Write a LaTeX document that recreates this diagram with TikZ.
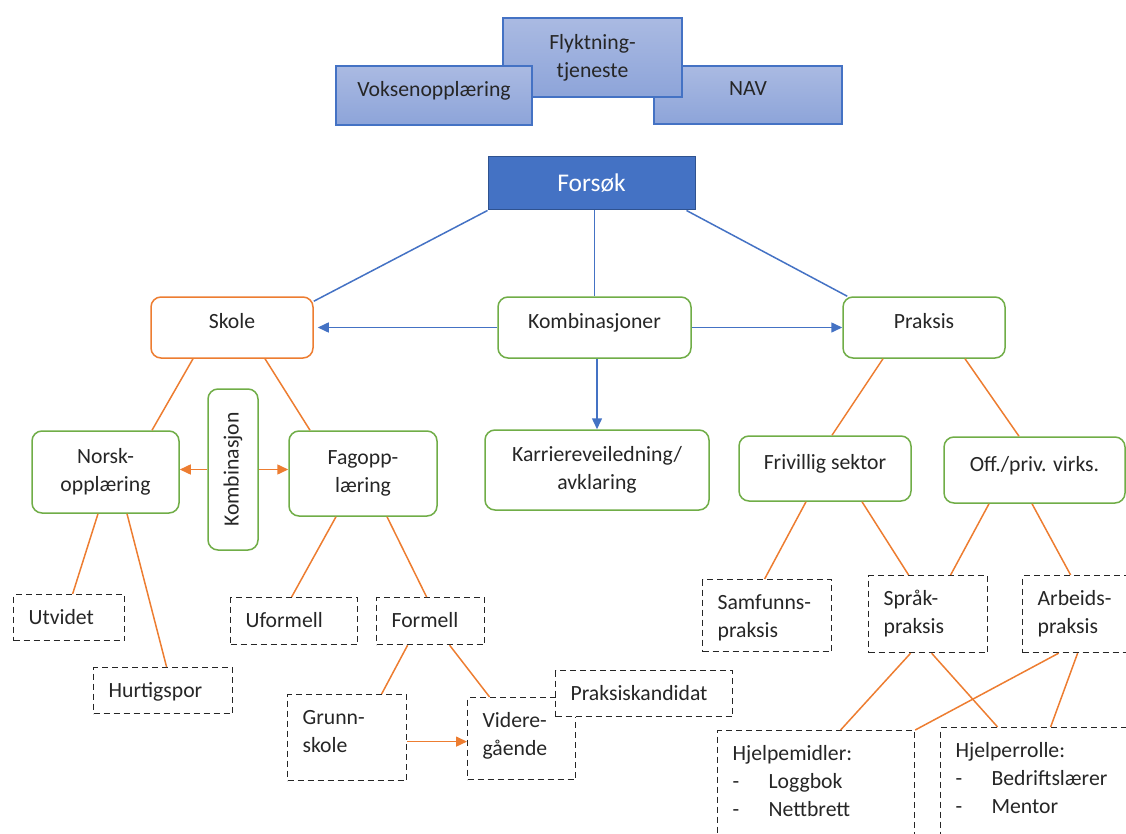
\documentclass[tikz,border=0pt]{standalone}
\usepackage{fontspec}
\setmainfont{Carlito}
\usetikzlibrary{arrows.meta}

\definecolor{offblue}{HTML}{4472C4}
\definecolor{darkblue}{HTML}{2F528F}
\definecolor{offorange}{HTML}{ED7D31}
\definecolor{offgreen}{HTML}{70AD47}
\definecolor{boxtop}{HTML}{AABAE2}
\definecolor{boxbottom}{HTML}{8DA4D9}
\definecolor{txt}{HTML}{262626}

\newcommand{\listdash}{\makebox[36pt][l]{-}}

\begin{document}
\begin{tikzpicture}[
        x=1pt, y=-1pt,
        font=\fontsize{21.7pt}{28pt}\selectfont, text=txt,
        % Style for the partner boxes and the main box
        partner/.style={draw=offblue, line width=1.2pt, top color=boxtop, bottom color=boxbottom, align=center, inner sep=0pt},
        main/.style={draw=darkblue, fill=offblue, text=white, line width=1pt, inner sep=0pt, font=\fontsize{25.5pt}{30pt}\selectfont},
        % Style for rounded and dashed boxes
        gbox/.style={draw=offgreen, fill=white, rounded corners=10pt, line width=1.5pt, align=center, inner sep=0pt},
        obox/.style={gbox, draw=offorange},
        oneline/.style={text height=15pt, text depth=13pt},
        dbox/.style={draw=black!85, dash pattern=on 6pt off 4pt, line width=1.2pt, fill=white, anchor=north west, align=left, inner xsep=15pt, inner ysep=0pt, text height=30pt},
        bline/.style={draw=offblue, line width=1.5pt},
        oline/.style={draw=offorange, line width=1.5pt},
        arrow/.style={-{Triangle[length=11pt, width=10pt]}}
    ]
    \clip (0,0) rectangle (1126,834);

    % Partner nodes
    \node[partner, oneline, minimum width=188pt, minimum height=58pt] (nav) at (748,95) {NAV};
    \node[partner, minimum width=179pt, minimum height=79pt] (flyktning) at (592.5,57.5) {Flyktning-\\tjeneste};
    \node[partner, oneline, minimum width=196pt, minimum height=59pt] (voksen) at (434,95.5) {Voksenopplæring};

    % Main node
    \node[main, minimum width=207pt, minimum height=53pt] (forsok) at (591.5,183.5) {Forsøk};

    % Level 1 nodes
    \node[obox, oneline, minimum width=162pt, minimum height=61pt] (skole) at (232,327.5) {Skole};
    \node[gbox, oneline, minimum width=193pt, minimum height=61pt] (kombinasjoner) at (594.5,327.5) {Kombinasjoner};
    \node[gbox, oneline, minimum width=162pt, minimum height=61pt] (praksis) at (924,327.5) {Praksis};

    % Level 2 nodes
    \node[gbox, minimum width=147pt, minimum height=82pt] (norsk) at (105.5,472) {Norsk-\\opplæring};
    \node[gbox, rotate=90, minimum width=161pt, minimum height=50pt] (kombinasjon) at (233,469.5) {Kombinasjon};
    \node[gbox, minimum width=148pt, minimum height=85pt] (fag) at (363,473.5) {Fagopp-\\læring};
    \node[gbox, minimum width=224pt, minimum height=80pt] (karriere) at (597,470) {Karriereveiledning/\\avklaring};
    \node[gbox, oneline, minimum width=172pt, minimum height=65pt] (frivillig) at (825,468.5) {Frivillig sektor};
    \node[gbox, oneline, minimum width=181pt, minimum height=66pt] (off) at (1034.5,470) {Off./priv. virks.};

    % Dashed nodes
    \node[dbox, text width=81pt, text depth=16pt] (utvidet) at (13,594) {Utvidet};
    \node[dbox, text width=109pt, text depth=16pt] (hurtigspor) at (93,667) {Hurtigspor};
    \node[dbox, text width=97pt, text depth=17pt] (uformell) at (230,597) {Uformell};
    \node[dbox, text width=78pt, text depth=17pt] (formell) at (376,597) {Formell};
    \node[dbox, text width=89pt, text depth=56pt] (grunnskole) at (287,694) {Grunn-\\skole};
    \node[dbox, text width=78pt, text depth=52pt] (videregaende) at (467,697) {Videre-\\gående};
    \node[dbox, text width=147pt, text depth=16pt] (kandidat) at (555,670) {Praksiskandidat};
    \node[dbox, text width=99pt, text depth=42pt] (samfunn) at (702,579) {Samfunns-\\praksis};
    \node[dbox, text width=89pt, text depth=47pt] (sprak) at (868,575) {Språk-\\praksis};
    \node[dbox, text width=80pt, text depth=47pt] (arbeid) at (1022,575) {Arbeids-\\praksis};
    \node[dbox, text width=167pt, text depth=90pt] (hjelpemidler) at (717,730) {Hjelpemidler:\\\listdash Loggbok\\\listdash Nettbrett};
    \node[dbox, text width=165pt, text depth=96pt] (hjelperolle) at (940,727) {Hjelperrolle:\\\listdash Bedriftslærer\\\listdash Mentor};

    % Blue connectors from the main node
    \draw[bline] (forsok.south west) -- ([yshift=-5pt]skole.north east);
    \draw[bline] (forsok.south -| kombinasjoner.north) -- (kombinasjoner.north);
    \draw[bline] ([xshift=-9pt]forsok.south east) -- ([xshift=5pt]praksis.north west);
    \draw[bline, arrow] (kombinasjoner.west) -- ([xshift=4pt]skole.east);
    \draw[bline, arrow] (kombinasjoner.east) -- (praksis.west);
    \draw[bline, arrow] (kombinasjoner.south -| karriere.north) -- (karriere.north);

    % Orange connectors, school side
    \draw[oline] ([xshift=-39pt]skole.south) -- ([xshift=46.5pt]norsk.north);
    \draw[oline] ([xshift=33pt]skole.south) -- ([xshift=-53pt]fag.north);
    \draw[oline, arrow] (kombinasjon.north) -- (kombinasjon.north -| norsk.east);
    \draw[oline, arrow] (kombinasjon.south) -- (kombinasjon.south -| fag.west);
    \draw[oline] ([xshift=-7.5pt]norsk.south) -- ([xshift=3.5pt]utvidet.north);
    \draw[oline] ([xshift=21.5pt]norsk.south) -- ([xshift=3.5pt]hurtigspor.north);
    \draw[oline] ([xshift=-27pt]fag.south) -- ([xshift=-2.5pt]uformell.north);
    \draw[oline] ([xshift=24pt]fag.south) -- ([xshift=-4pt]formell.north);
    \draw[oline] ([xshift=-23pt]formell.south) -- ([xshift=34.5pt]grunnskole.north);
    \draw[oline] ([xshift=19pt]formell.south) -- ([xshift=-32pt]videregaende.north);
    \draw[oline, arrow] ([yshift=-4pt]grunnskole.east) -- ([yshift=-4pt]grunnskole.east -| videregaende.west);

    % Orange connectors, practice side
    \draw[oline] ([xshift=-41pt]praksis.south) -- ([xshift=7pt]frivillig.north);
    \draw[oline] ([xshift=41pt]praksis.south) -- ([xshift=-15.5pt]off.north);
    \draw[oline] ([xshift=-19pt]frivillig.south) -- ([xshift=-2.5pt]samfunn.north);
    \draw[oline] ([xshift=37pt]frivillig.south) -- ([xshift=-19.5pt]sprak.north);
    \draw[oline] ([xshift=-45.5pt]off.south) -- ([xshift=22.5pt]sprak.north);
    \draw[oline] ([xshift=-2.5pt]off.south) -- ([xshift=-7pt]arbeid.north);
    \draw[oline] ([xshift=-17.5pt]sprak.south) -- ([xshift=24.5pt]hjelpemidler.north);
    \draw[oline] ([xshift=3.5pt]sprak.south) -- ([xshift=-40.5pt]hjelperolle.north);
    \draw[oline] ([xshift=-19pt]arbeid.south) -- (hjelpemidler.north east);
    \draw[oline] (arbeid.south) -- ([xshift=12.5pt]hjelperolle.north);
\end{tikzpicture}
\end{document}
